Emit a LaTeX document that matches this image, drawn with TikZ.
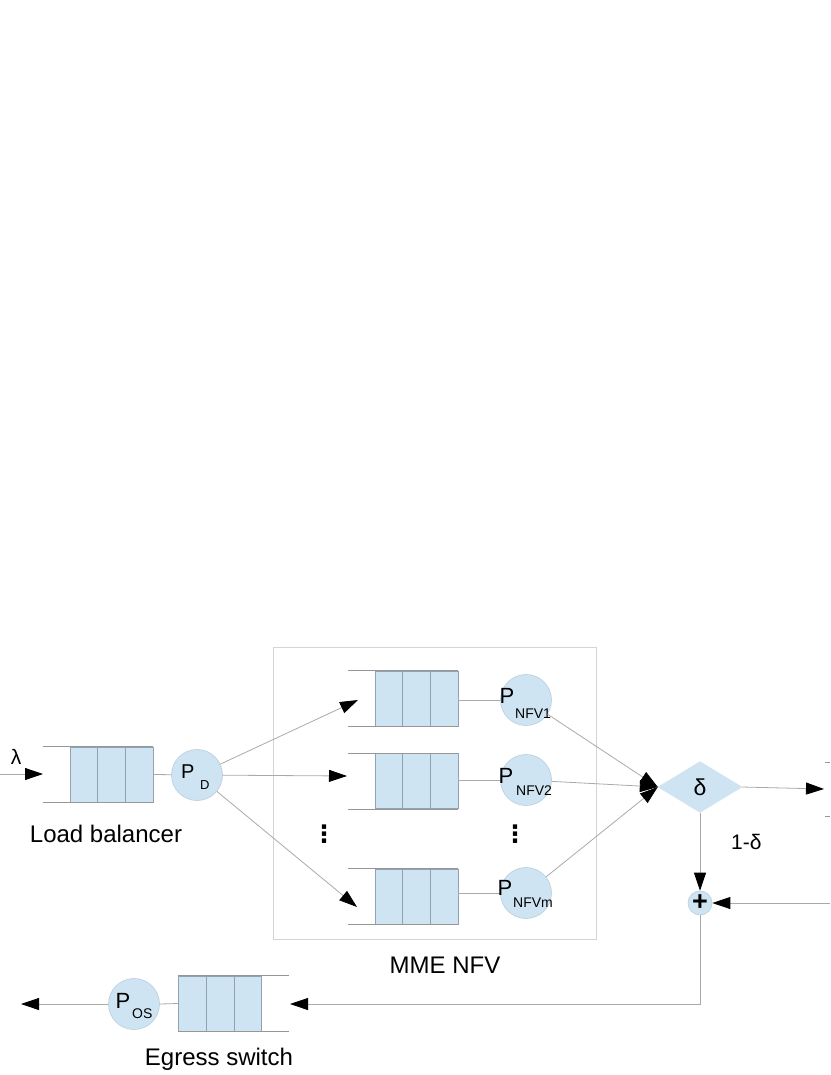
\documentclass[tikz,border=0pt]{standalone}
\usepackage{fontspec}
\setmainfont{Liberation Sans}
\newfontfamily\djv{DejaVu Sans}
\usetikzlibrary{arrows.meta,shapes.geometric,calc}
\definecolor{qblue}{RGB}{207,228,242}
\definecolor{qedge}{RGB}{145,162,178}
\definecolor{cedge}{RGB}{185,205,222}
\definecolor{lgray}{RGB}{170,170,170}
\definecolor{rgray}{RGB}{150,150,150}
\definecolor{bgray}{RGB}{212,212,212}
\tikzset{
  conn/.style={draw=lgray, line width=0.8pt},
  arr/.style={conn, -{Triangle[length=18pt,width=12pt,black]}},
  qfill/.style={rectangle, draw=qedge, fill=qblue, line width=0.8pt, minimum width=83pt, minimum height=55pt, inner sep=0pt},
  qdiv/.style={draw=qedge, line width=0.7pt},
  rail/.style={draw=rgray, line width=0.7pt},
  proc/.style={circle, draw=cedge, fill=qblue, line width=0.6pt, minimum size=51pt, inner sep=0pt},
  bigP/.style={anchor=base west, inner sep=0pt, font=\fontsize{22}{22}\selectfont},
  subP/.style={anchor=base west, inner sep=0pt, font=\fontsize{14}{14}\selectfont},
  txt/.style={inner sep=0pt, font=\fontsize{24}{24}\selectfont},
  vdot/.style={inner sep=0pt, font=\djv\bfseries\fontsize{24}{24}\selectfont},
}
\newcommand{\mkqueue}[3]{%
  \node[qfill] (#1) at (#2,#3) {};
  \draw[qdiv] ($(#1.north west)!1/3!(#1.north east)$) -- ($(#1.south west)!1/3!(#1.south east)$);
  \draw[qdiv] ($(#1.north west)!2/3!(#1.north east)$) -- ($(#1.south west)!2/3!(#1.south east)$);
}
\begin{document}
\begin{tikzpicture}[x=1pt,y=-1pt]
\useasboundingbox (0,0) rectangle (830,1075);
\fill[white] (0,0) rectangle (830,1075);

% MME NFV box
\node[draw=bgray, line width=0.8pt, minimum width=323pt, minimum height=292pt, inner sep=0pt] (nfvbox) at (434.5,793) {};

% queues
\mkqueue{lb}{111.5}{774.5}
\mkqueue{q1}{416.5}{698.5}
\mkqueue{q2}{416.5}{781}
\mkqueue{qm}{416.5}{896.5}
\mkqueue{eg}{220}{1003.5}
\foreach \q in {lb,q1,q2,qm}{
  \draw[rail] ([xshift=-27pt]\q.north west) -- (\q.north east);
  \draw[rail] ([xshift=-27pt]\q.south west) -- (\q.south east);
}
\draw[rail] (eg.north west) -- ([xshift=27pt]eg.north east);
\draw[rail] (eg.south west) -- ([xshift=27pt]eg.south east);

% servers
\node[proc] (pd) at (197,775) {};
\node[proc] (c1) at (526,700) {};
\node[proc] (c2) at (526,780) {};
\node[proc] (cm) at (526,893) {};
\node[proc] (pos) at (134,1004) {};
\node[diamond, draw=qblue, fill=qblue, minimum width=84pt, minimum height=51pt, aspect=1.65, inner sep=0pt, font=\fontsize{23}{23}\selectfont] (dia) at (700,787) {δ};
\node[circle, draw=cedge, fill=qblue, line width=0.6pt, minimum size=24pt, inner sep=0pt, font=\fontsize{27}{27}\selectfont\bfseries] (plus) at (700,903) {+};

% connectors queue -> server
\draw[conn] (lb.east) -- (pd);
\draw[conn] (q1.east |- c1) -- (c1.west);
\draw[conn] (q2.east |- c2) -- (c2.west);
\draw[conn] (qm.east |- cm) -- (cm.west);
\draw[conn] (eg.west) -- (pos.east);

% labels inside servers
\node[bigP, font=\fontsize{20}{20}\selectfont] (pdP) at (181,778) {P};
\node[subP, font=\fontsize{13}{13}\selectfont] (pdS) at (200,789) {D};
\node[bigP] (c1P) at (499.3,703) {P};
\node[subP] (c1S) at (515,718) {NFV1};
\node[bigP] (c2P) at (498.3,783) {P};
\node[subP] (c2S) at (516,795) {NFV2};
\node[bigP] (cmP) at (497.3,895) {P};
\node[subP] (cmS) at (513,907) {NFVm};
\node[bigP] (posP) at (115.3,1008) {P};
\node[subP] (posS) at (132,1018) {OS};

% input
\coordinate (in0) at (0,774);
\coordinate (in1) at (43,774);
\draw[arr] (in0) -- (in1);
\node[anchor=base, inner sep=0pt, font=\fontsize{21}{21}\selectfont] (lam) at (16,764) {λ};

% load balancer to NFV queues
\coordinate (t1) at (358,700);
\coordinate (t2) at (347,776);
\coordinate (tm) at (357,907);
\draw[arr] (pd) -- (t1);
\draw[arr] (pd) -- (t2);
\draw[arr] (pd) -- (tm);

% NFV to decision
\draw[arr] (c1) -- (dia.west);
\draw[arr] (c2) -- (dia.west);
\draw[arr] (cm) -- (dia.west);

% decision outputs
\coordinate (out1) at (824,789);
\draw[arr] (dia.east) -- (out1);
\draw[rail] (825,762) -- (830,762);
\draw[rail] (825,816) -- (830,816);
\draw[arr] (dia.south) -- (plus.north);
\coordinate (rin) at (830,903);
\draw[arr] (rin) -- (plus.east);
\coordinate (egin) at (290,1004);
\draw[arr] (plus.south) |- (egin);
\coordinate (egout) at (21,1004);
\draw[arr] (pos.west) -- (egout);

% dots
\node[vdot] (dots1) at (324,834) {⋮};
\node[vdot] (dots2) at (515,834) {⋮};

% texts
\node[txt, anchor=base] (lbt) at (106,842) {Load balancer};
\node[txt, anchor=base] (mmet) at (445,973) {MME NFV};
\node[txt, anchor=base] (egt) at (219,1065) {Egress switch};
\node[anchor=base west, inner sep=0pt, font=\fontsize{21}{21}\selectfont] (omd) at (731,849) {1-δ};
\end{tikzpicture}
\end{document}
